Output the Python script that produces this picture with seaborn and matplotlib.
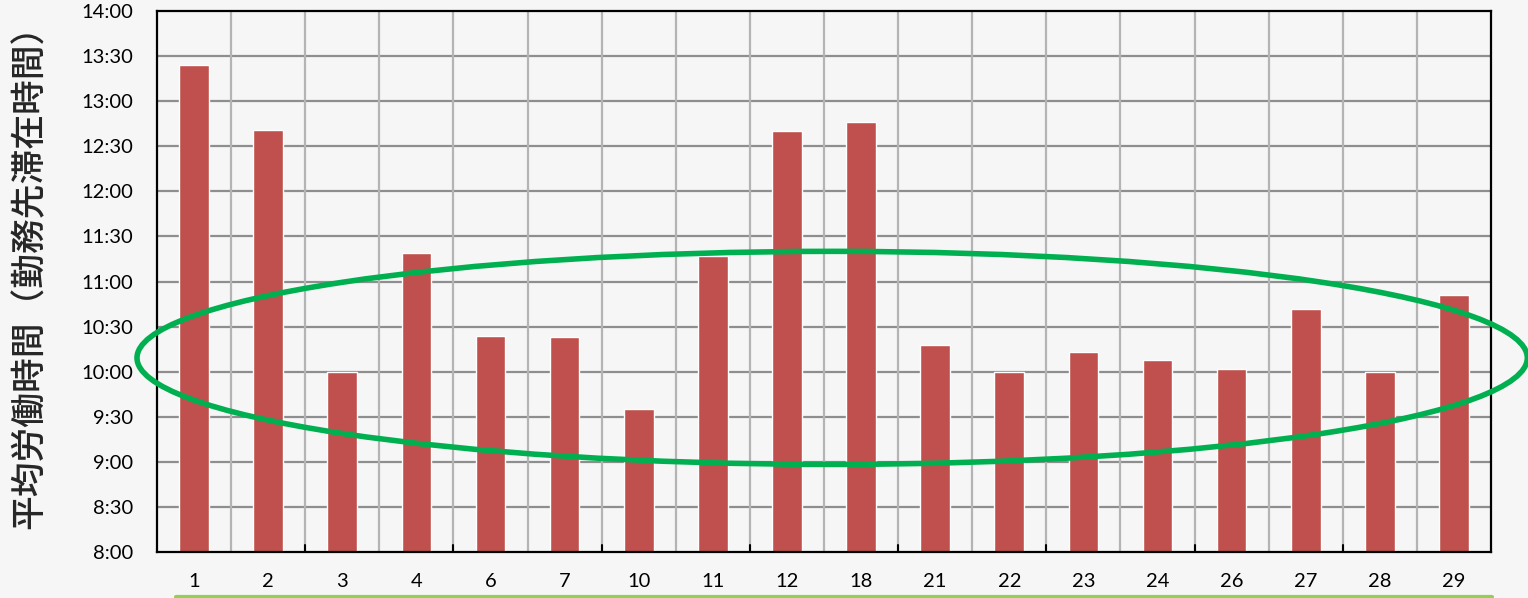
import numpy as np
import matplotlib
matplotlib.use("Agg")
import matplotlib.pyplot as plt
import seaborn as sns
from matplotlib.patches import Ellipse
from matplotlib.lines import Line2D
from matplotlib.ticker import FixedLocator

# data
categories = ["1", "2", "3", "4", "6", "7", "10", "11", "12", "18",
              "21", "22", "23", "24", "26", "27", "28", "29"]
stay_times = ["13:24", "12:41", "10:00", "11:19", "10:24", "10:23", "9:35", "11:17", "12:40",
              "12:46", "10:18", "10:00", "10:13", "10:08", "10:02", "10:42", "10:00", "10:51"]
y_ticks = ["8:00", "8:30", "9:00", "9:30", "10:00", "10:30", "11:00",
           "11:30", "12:00", "12:30", "13:00", "13:30", "14:00"]
y_label = "平均労働時間（勤務先滞在時間）"


def to_hours(s):
    h, m = s.split(":")
    return int(h) + int(m) / 60


hours = [to_hours(s) for s in stay_times]
tick_hours = [to_hours(s) for s in y_ticks]

sns.set_style("white")
plt.rcParams["font.family"] = ["Lato", "DejaVu Sans"]

bg = "#f6f6f6"
fig = plt.figure(figsize=(15.28, 5.98), dpi=100, facecolor=bg)
ax = fig.add_axes([157 / 1528, 46 / 598, 1334 / 1528, 541 / 598])
ax.set_facecolor(bg)

sns.barplot(x=categories, y=hours, order=categories, color="#C0504D",
            saturation=1, width=0.4, ax=ax, zorder=3)

ax.set_ylim(tick_hours[0], tick_hours[-1])
ax.set_xlim(-0.5, len(categories) - 0.5)
ax.yaxis.set_major_locator(FixedLocator(tick_hours))
ax.set_yticklabels(y_ticks)

# grid: horizontal at every tick, vertical at every category boundary
for t in tick_hours[1:-1]:
    ax.axhline(t, color="#8e8e8e", lw=1.6, zorder=1)
for b in np.arange(0.5, len(categories) - 0.5, 1):
    ax.axvline(b, color="#b4b4b4", lw=1.6, zorder=1)

# small ticks on the x axis every second boundary
for b in np.arange(1.5, len(categories) - 0.5, 2):
    ax.plot([b, b], [tick_hours[0], tick_hours[0] + 0.08], color="black", lw=1.5, zorder=4)

ax.tick_params(axis="y", direction="in", length=6, width=1.5, pad=17,
               labelsize=14.5, colors="black")
ax.tick_params(axis="x", length=0, pad=15, labelsize=14.5, colors="black")
for s in ax.spines.values():
    s.set_visible(True)
    s.set_color("black")
    s.set_linewidth(1.6)
    s.set_zorder(5)
ax.set_xlabel("")
ax.set_ylabel("")

fig.text(30 / 1528, 1 - 268 / 598, y_label, rotation=90, ha="center", va="center",
         fontsize=25, fontweight="medium", family=["Noto Sans CJK JP", "DejaVu Sans"])

# highlight ellipse around the ~10:00 group
ell = Ellipse((8.61, 10.153), width=18.76, height=2.363, fill=False,
              edgecolor="#00B050", lw=4, clip_on=False, zorder=6)
ax.add_patch(ell)

# green rule under the category labels
fig.add_artist(Line2D([176 / 1528, 1492 / 1528], [1.5 / 598, 1.5 / 598],
                      color="#92D050", lw=3, transform=fig.transFigure))

fig.savefig("out.png", dpi=100, facecolor=bg)
